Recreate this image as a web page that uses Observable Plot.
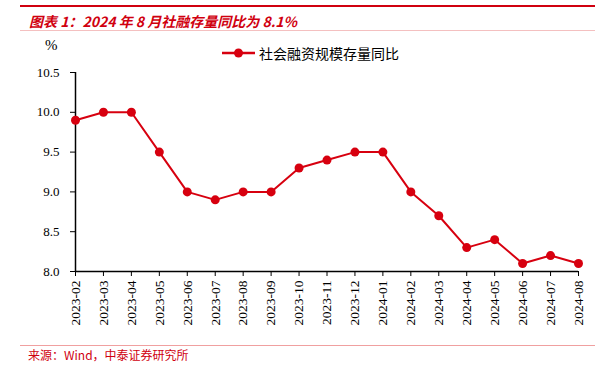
<!DOCTYPE html>
<html><head><meta charset="utf-8">
<script src="https://cdn.jsdelivr.net/npm/d3@7"></script>
<script src="https://cdn.jsdelivr.net/npm/@observablehq/plot@0.6"></script>
<style>
body{margin:0;background:#fff;}
#wrap{position:relative;width:600px;height:366px;overflow:hidden;}
.abs{position:absolute;white-space:nowrap;}
#wrap svg text{font-family:'Liberation Serif',serif !important;}
</style></head>
<body><div id="wrap">
<div class="abs" style="left:20px;top:5px;width:575px;height:2px;background:#d0000f"></div>
<div class="abs" id="title" style="left:29px;top:11px;font:italic bold 14px 'Noto Sans CJK SC';color:#d0000f">图表 1：2024 年 8 月社融存量同比为 8.1%</div>
<div class="abs" style="left:20px;top:30px;width:575px;height:1px;background:#f4c0c0"></div>
<div class="abs" style="left:20px;top:345px;width:575px;height:1px;background:#f0a0a0"></div>
<div class="abs" style="left:28px;top:346px;font:12px 'Noto Sans CJK SC';color:#d0000f">来源：Wind，中泰证券研究所</div>
</div>
<script>
const months = ["2023-02","2023-03","2023-04","2023-05","2023-06","2023-07","2023-08","2023-09","2023-10","2023-11","2023-12","2024-01","2024-02","2024-03","2024-04","2024-05","2024-06","2024-07","2024-08"];
const yoy = [9.9,10.0,10.0,9.5,9.0,8.9,9.0,9.0,9.3,9.4,9.5,9.5,9.0,8.7,8.3,8.4,8.1,8.2,8.1];
const yTicks = [8.0,8.5,9.0,9.5,10.0,10.5];
const seriesName = "社会融资规模存量同比";
const unitLabel = "%";
const red = "#d7000f";
const data = months.map((m,i)=>({month:m, value:yoy[i]}));
const serif = "'Liberation Serif', serif";

const chart = Plot.plot({
  width: 600, height: 340,
  marginLeft: 75, marginRight: 22, marginTop: 72, marginBottom: 69,
  style: {color: "#000", background: "transparent"},
  x: {type: "point", domain: months, padding: 0, round: false, label: null},
  y: {domain: [8, 10.5], label: null},
  marks: [
    Plot.axisY({ticks: yTicks, tickSize: 5, tickPadding: 11, tickFormat: d3.format(".1f"), fontSize: 13, fontFamily: serif, label: null}),
    Plot.axisX({tickSize: 5, tickRotate: -90, tickPadding: 4, fontSize: 13.5, fontFamily: serif, label: null}),
    Plot.ruleY([8], {stroke: "#000", strokeWidth: 1.5}),
    Plot.ruleX([months[0]], {stroke: "#000", strokeWidth: 1.5}),
    Plot.line(data, {x: "month", y: "value", stroke: red, strokeWidth: 2}),
    Plot.dot(data, {x: "month", y: "value", fill: red, r: 4.5})
  ]
});
const wrap = document.getElementById("wrap");
wrap.appendChild(chart);
chart.style.position = "absolute";
chart.style.left = "0px";
chart.style.top = "0px";

const u = document.createElement("div");
u.className = "abs";
u.style.cssText = "left:45px;top:37px;font:15px 'Liberation Serif',serif;color:#000";
u.textContent = unitLabel;
wrap.appendChild(u);
const lg = document.createElement("div");
lg.className = "abs";
lg.style.cssText = "left:222px;top:43px;display:flex;align-items:center;font:14px 'Noto Sans CJK SC';color:#000";
lg.innerHTML = `<svg width="34" height="14" style="margin-right:3px"><line x1="0" y1="7" x2="33" y2="7" stroke="${red}" stroke-width="2.5"/><circle cx="16.5" cy="7" r="4.5" fill="${red}"/></svg><span>${seriesName}</span>`;
wrap.appendChild(lg);
</script>
</body></html>
